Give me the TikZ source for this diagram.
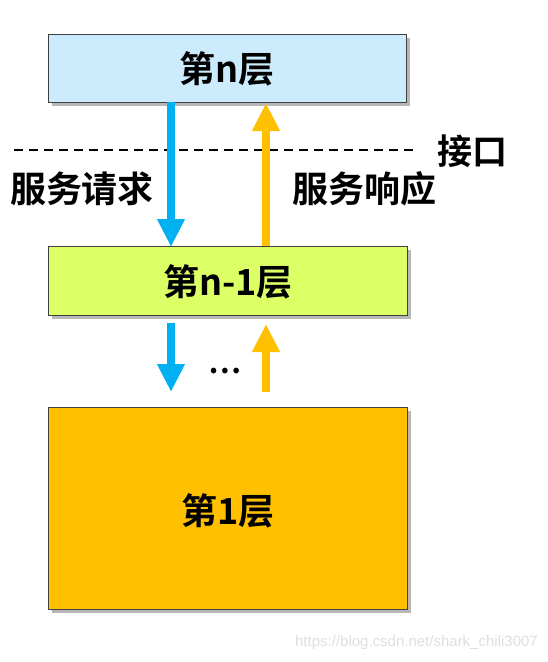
\documentclass[tikz,border=0pt]{standalone}
\usepackage{fontspec}
\newfontfamily\cjk{Noto Sans CJK SC}[BoldFont={Noto Sans CJK SC Bold}]
\newfontfamily\wm{Liberation Sans}
\usetikzlibrary{arrows.meta,shadows,positioning}
\definecolor{boxblue}{HTML}{CCEBFC}
\definecolor{boxgreen}{HTML}{DDFF66}
\definecolor{boxorange}{HTML}{FFC000}
\definecolor{arrblue}{HTML}{00B0F0}
\definecolor{arrorange}{HTML}{FFC000}
\tikzset{
  layerbox/.style={draw=black!75, line width=0.9pt, inner sep=0pt, anchor=north west,
    drop shadow={shadow xshift=4pt, shadow yshift=-4pt, opacity=0.4, fill=black!70},
    font=\cjk\bfseries\fontsize{36}{40}\selectfont},
  reqarrow/.style={draw=arrblue, line width=8pt, -{Triangle[width=26pt,length=28pt]}},
  resarrow/.style={draw=arrorange, line width=8pt, -{Triangle[width=26pt,length=28pt]}},
  lbl/.style={font=\cjk\bfseries\fontsize{36}{40}\selectfont, inner sep=0pt}
}
\begin{document}
\begin{tikzpicture}[x=1pt,y=-1pt]
\useasboundingbox (0,0) rectangle (547,662);
% boxes
\node[layerbox, fill=boxblue, minimum width=358pt, minimum height=68pt] (top) at (48,34) {};
\node[lbl] (toptxt) at (227,69) {第n层};
\node[layerbox, fill=boxgreen, minimum width=359pt, minimum height=69pt] (mid) at (48,246) {};
\node[lbl] (midtxt) at (228,282) {第n-1层};
\node[layerbox, fill=boxorange, minimum width=359pt, minimum height=202pt] (bot) at (48,407) {};
\node[lbl] (bottxt) at (228,511) {第1层};
% interface line
\coordinate (dl) at (14,150);
\coordinate (dr) at (417,150);
\draw[black, line width=1.3pt, dash pattern=on 9pt off 6pt] (dl) -- (dr);
\node[lbl, font=\cjk\bfseries\fontsize{35}{40}\selectfont] (iface) at (472,151) {接口};
\node[lbl] (req) at (82,189) {服务请求};
\node[lbl] (res) at (364,189) {服务响应};
% upper arrows
\coordinate (b1s) at (171,102);
\coordinate (b1e) at (171,247);
\coordinate (o1s) at (266,246);
\coordinate (o1e) at (266,103);
\draw[reqarrow] (b1s) -- (b1e);
\draw[resarrow] (o1s) -- (o1e);
% lower arrows
\coordinate (b2s) at (171,323);
\coordinate (b2e) at (171,392);
\coordinate (o2s) at (266,392);
\coordinate (o2e) at (266,324);
\draw[reqarrow] (b2s) -- (b2e);
\draw[resarrow] (o2s) -- (o2e);
\node[font=\cjk\bfseries\fontsize{30}{30}\selectfont, inner sep=0pt] (dots) at (225,371) {…};
% watermark
\node[font=\wm\fontsize{15}{17}\selectfont, text=black!13, anchor=east, inner sep=0pt] (wmark) at (538,643) {https://blog.csdn.net/shark\_chili3007};
\end{tikzpicture}
\end{document}
